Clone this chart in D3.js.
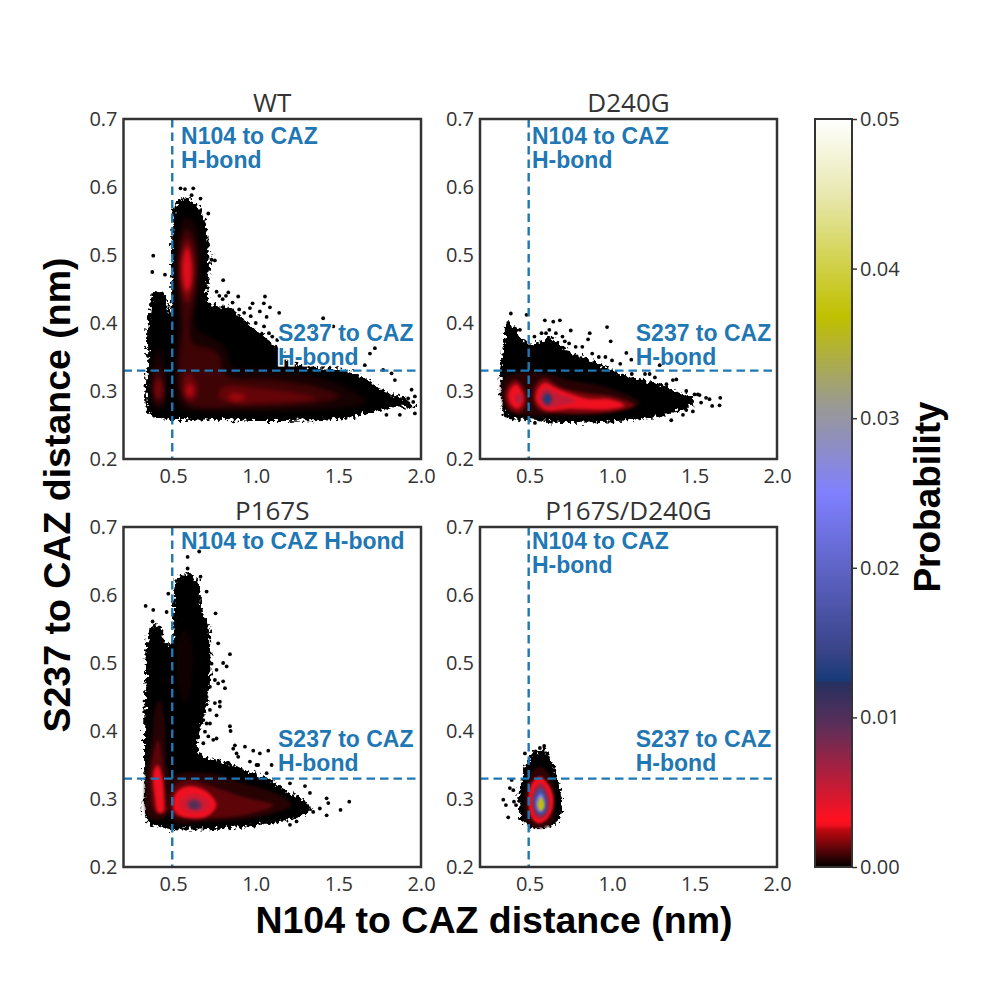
<!DOCTYPE html>
<html><head><meta charset="utf-8">
<script src="https://cdn.jsdelivr.net/npm/d3@7"></script>
<style>html,body{margin:0;padding:0;background:#fff}svg{display:block}</style>
</head><body><svg id="c" width="991" height="991"></svg>
<script>
const xTicks=[0.5,1.0,1.5,2.0], yTicks=[0.2,0.3,0.4,0.5,0.6,0.7], cbTicks=[0,0.01,0.02,0.03,0.04,0.05];
const hbondX=0.495, hbondY=0.33;
const cmapValues=[0,0.0025,0.0028,0.0032,0.0065,0.0095,0.0123,0.0125,0.0145,0.025,0.031,0.0368,0.045,0.05];
const cmapColors=["#000000","#c00810","#f01020","#ff1020","#a82040","#5a2f5a","#27305f","#183a78","#3a4488","#8080ff","#9a9a90","#c0c000","#e8e8b0","#ffffff"];

const wtOutline=[[.531,.581],[.602,.582],[.658,.569],[.693,.547],[.713,.512],[.723,.483],[.713,.434],[.783,.424],[.824,.425],[.925,.405],[1.025,.385],[1.126,.365],[1.247,.340],[1.529,.332],[1.670,.318],[1.791,.298],[1.892,.290],[1.963,.275],[1.852,.277],[1.731,.270],[1.529,.260],[1.126,.256],[.723,.258],[.380,.262],[.336,.279],[.344,.336],[.344,.390],[.360,.424],[.380,.446],[.441,.444],[.477,.414],[.491,.468],[.495,.532],[.501,.561]];
const wtStray=[[.545,.598],[.572,.597],[.622,.598],[.666,.583],[.612,.588],[.713,.561],[.733,.493],[.753,.492],[.803,.463],[.380,.499],[.374,.475],[.451,.471],[.763,.446],[.834,.445],[.894,.439],[.981,.429],[1.056,.439],[1.049,.429],[1.086,.423],[1.142,.415],[.965,.422],[1.025,.417],[1.066,.409],[1.408,.407],[1.469,.395],[1.721,.363],[1.691,.355],[1.660,.338],[1.771,.331],[1.822,.326],[1.842,.316],[1.943,.302],[1.963,.292],[1.953,.284],[1.922,.289],[1.963,.267],[1.872,.265],[1.791,.265],[1.771,.294],[1.348,.390],[.80,.435],[.82,.44],[.86,.43],[.90,.42],[.93,.415],[.97,.41],[1.0,.40],[1.05,.395],[1.08,.385],[1.10,.38],[1.13,.375],[.78,.44]];
const wtBands=[
[.0003,[[.572,.556],[.632,.547],[.662,.507],[.658,.453],[.638,.395],[.723,.380],[.814,.365],[.864,.336],[1.126,.331],[1.368,.321],[1.570,.302],[1.670,.284],[1.529,.275],[1.126,.270],[.723,.270],[.551,.275],[.515,.302],[.515,.355],[.531,.409],[.517,.483],[.531,.532]]],
[.0003,[[.410,.363],[.451,.341],[.461,.302],[.441,.275],[.390,.275],[.364,.302],[.376,.341]]],
[.0008,[[.582,.539],[.622,.527],[.646,.493],[.632,.439],[.602,.400],[.622,.370],[.723,.363],[.783,.351],[.814,.324],[1.126,.316],[1.368,.306],[1.509,.292],[1.328,.281],[.925,.277],[.602,.279],[.545,.297],[.537,.346],[.558,.395],[.537,.453],[.531,.498],[.551,.527]]],
[.0008,[[.416,.336],[.447,.311],[.441,.284],[.400,.281],[.376,.302],[.386,.326]]],
[.0015,[[.586,.525],[.622,.498],[.618,.449],[.586,.429],[.549,.449],[.545,.498]]],
[.0014,[[.592,.326],[.646,.311],[.642,.292],[.602,.284],[.562,.294],[.562,.316]]],
[.0013,[[.804,.306],[1.025,.304],[1.247,.297],[1.368,.289],[1.126,.283],[.864,.282],[.773,.292]]],
[.0015,[[.416,.319],[.437,.302],[.420,.289],[.394,.292],[.386,.306]]],
[.0027,[[.586,.512],[.614,.488],[.608,.456],[.582,.446],[.558,.463],[.558,.493]]],
[.0023,[[.602,.311],[.626,.302],[.612,.292],[.582,.294],[.578,.304]]],
[.002,[[.854,.297],[.945,.292],[.884,.284],[.834,.289]]]
];

const dgOutline=[[.357,.399],[.412,.395],[.442,.380],[.482,.370],[.563,.372],[.644,.378],[.724,.360],[.845,.348],[.986,.332],[1.087,.322],[1.228,.314],[1.390,.300],[1.500,.288],[1.500,.282],[1.430,.274],[1.269,.262],[.986,.255],[.704,.253],[.502,.257],[.361,.261],[.335,.277],[.325,.311],[.335,.350],[.351,.380]];
const dgStray=[[.387,.414],[.482,.412],[.371,.400],[.593,.404],[.644,.402],[.684,.404],[.750,.389],[.970,.394],[.865,.385],[.855,.376],[.992,.373],[1.087,.356],[1.117,.346],[1.289,.338],[1.228,.325],[1.369,.316],[1.390,.317],[1.591,.288],[1.656,.290],[1.652,.279],[1.607,.278],[1.490,.270],[1.430,.265],[1.359,.257],[.533,.253],[1.531,.294],[.442,.390],[.573,.385],[.714,.373],[.60,.385],[.62,.39],[.66,.385],[.70,.38],[.74,.37],[.78,.365],[.82,.365],[.88,.355],[.92,.35],[.96,.35],[1.0,.345],[1.05,.34],[1.12,.325],[1.2,.325],[1.26,.32],[1.33,.31],[1.45,.30],[1.5,.295],[.53,.38],[1.52,.295],[1.54,.283],[1.57,.29],[1.45,.272]];
const dgBands=[
[.0005,[[.341,.316],[.402,.326],[.593,.326],[.744,.316],[.986,.304],[1.168,.282],[1.027,.270],[.704,.265],[.402,.267],[.341,.282]]],
[.0015,[[.418,.317],[.472,.301],[.482,.282],[.442,.268],[.377,.274],[.351,.294],[.377,.311]]],
[.0015,[[.593,.319],[.684,.306],[.845,.297],[1.006,.292],[1.138,.279],[1.006,.269],[.704,.267],[.553,.273],[.519,.292],[.543,.311]]],
[.0028,[[.422,.310],[.458,.297],[.462,.283],[.428,.274],[.385,.281],[.371,.294],[.392,.306]]],
[.0028,[[.593,.312],[.664,.304],[.845,.289],[.986,.288],[1.077,.279],[.986,.273],[.744,.274],[.593,.272],[.539,.287],[.553,.304]]],
[.006,[[.432,.297],[.458,.289],[.438,.281],[.412,.288]]],
[.0055,[[.599,.305],[.664,.297],[.785,.286],[.684,.278],[.599,.276],[.559,.288],[.567,.299]]],
[.01,[[.607,.298],[.640,.288],[.607,.279],[.579,.288]]],
[.013,[[.607,.294],[.629,.288],[.607,.282],[.587,.288]]]
];

const psOutline=[[.531,.627],[.612,.629],[.662,.612],[.672,.578],[.715,.558],[.725,.514],[.720,.460],[.685,.421],[.655,.392],[.662,.367],[.804,.355],[.965,.340],[1.086,.328],[1.166,.314],[1.280,.300],[1.340,.284],[1.247,.272],[1.025,.262],[.662,.255],[.420,.259],[.340,.269],[.326,.333],[.326,.421],[.336,.485],[.336,.529],[.370,.553],[.420,.556],[.451,.529],[.491,.529],[.501,.588]];
const psStray=[[.588,.656],[.658,.664],[.588,.639],[.602,.629],[.551,.625],[.666,.627],[.703,.605],[.471,.602],[.334,.584],[.380,.578],[.461,.575],[.376,.561],[.757,.573],[.773,.529],[.844,.513],[.803,.500],[.824,.495],[.803,.473],[.814,.463],[.783,.436],[.844,.407],[.848,.400],[.763,.423],[.723,.411],[.743,.387],[.874,.379],[.935,.377],[.985,.371],[1.076,.371],[1.025,.367],[1.096,.350],[1.015,.350],[.884,.367],[1.207,.323],[1.298,.319],[1.328,.309],[1.429,.301],[1.439,.294],[1.566,.296],[1.513,.284],[1.429,.276],[1.388,.286],[1.348,.281],[1.247,.267],[1.207,.262],[.723,.431],[.703,.450],[.773,.470],[.753,.441],[.753,.475],[.763,.490],[.783,.443],[.703,.411],[.683,.416],[.713,.392],[.763,.389],[.683,.382],[.834,.352],[.864,.374],[.894,.362],[.965,.355],[1.005,.350],[1.066,.338],[.733,.499],[.723,.465],[.672,.421],[.693,.399]];
const psBands=[
[.0002,[[.572,.549],[.612,.529],[.602,.455],[.572,.441],[.531,.470],[.531,.529]]],
[.0005,[[.420,.446],[.451,.411],[.461,.352],[.481,.333],[.491,.284],[.420,.269],[.350,.274],[.330,.318],[.370,.382],[.390,.431]]],
[.0005,[[.501,.333],[.723,.338],[.925,.323],[1.126,.308],[1.217,.291],[1.025,.274],[.723,.267],[.501,.267],[.481,.299]]],
[.0012,[[.410,.387],[.437,.352],[.451,.308],[.461,.281],[.400,.278],[.370,.294],[.364,.343]]],
[.0012,[[.602,.328],[.743,.318],[.925,.303],[1.106,.291],[.925,.276],[.642,.272],[.501,.276],[.485,.303],[.511,.321]]],
[.0028,[[.406,.350],[.435,.333],[.447,.299],[.441,.281],[.410,.280],[.386,.308],[.380,.338]]],
[.0028,[[.602,.319],[.703,.311],[.763,.291],[.703,.274],[.582,.272],[.511,.281],[.501,.299],[.531,.313]]],
[.005,[[.612,.308],[.703,.300],[.723,.289],[.652,.279],[.562,.284],[.541,.296]]],
[.0085,[[.622,.300],[.672,.294],[.662,.285],[.602,.286],[.586,.294]]],
[.0105,[[.622,.295],[.652,.290],[.622,.286],[.602,.290]]]
];

const pdOutline=[[.492,.357],[.523,.367],[.593,.372],[.634,.355],[.672,.328],[.700,.294],[.680,.269],[.603,.259],[.523,.257],[.452,.269],[.432,.299],[.452,.328],[.472,.348]];
const pdStray=[[.341,.299],[.357,.291],[.371,.273],[.381,.316],[.402,.313],[.406,.296],[.418,.291],[.392,.328],[.472,.367],[.537,.370],[.563,.375],[.589,.378],[.478,.344],[.472,.333]];
const pdBands=[
[.0006,[[.563,.348],[.634,.330],[.654,.294],[.634,.264],[.563,.257],[.492,.264],[.472,.299],[.502,.333]]],
[.0028,[[.563,.333],[.634,.313],[.644,.289],[.603,.269],[.553,.264],[.513,.272],[.492,.299],[.513,.323]]],
[.007,[[.567,.323],[.613,.308],[.619,.286],[.583,.272],[.539,.274],[.513,.294],[.527,.313]]],
[.016,[[.567,.316],[.603,.301],[.599,.281],[.563,.276],[.533,.286],[.533,.306]]],
[.024,[[.569,.308],[.593,.296],[.583,.283],[.557,.281],[.539,.291],[.547,.302]]],
[.037,[[.569,.303],[.590,.291],[.570,.282],[.550,.290]]]
];

const panels=[
{title:"WT",left:123.5,right:421,top:119,bottom:459,outline:wtOutline,stray:wtStray,bands:wtBands,
 notes:[["N104 to CAZ",.548,.663],["H-bond",.548,.628],["S237 to CAZ",1.135,.3735],["H-bond",1.135,.338]],halo:true,blur:2.2},
{title:"D240G",left:480,right:777,top:119,bottom:459,outline:dgOutline,stray:dgStray,bands:dgBands,
 notes:[["N104 to CAZ",.515,.663],["H-bond",.515,.628],["S237 to CAZ",1.144,.3735],["H-bond",1.144,.338]],blur:1.8},
{title:"P167S",left:123.5,right:421,top:527,bottom:867,outline:psOutline,stray:psStray,bands:psBands,
 notes:[["N104 to CAZ H-bond",.548,.667],["S237 to CAZ",1.135,.376],["H-bond",1.135,.341]],blur:1.8},
{title:"P167S/D240G",left:480,right:777,top:527,bottom:867,outline:pdOutline,stray:pdStray,bands:pdBands,
 notes:[["N104 to CAZ",.515,.667],["H-bond",.515,.632],["S237 to CAZ",1.144,.376],["H-bond",1.144,.341]],blur:1.0}
];

const color=d3.scaleLinear().domain(cmapValues).range(cmapColors).clamp(true);
const svg=d3.select("#c");
const tickFont='"Open Sans",sans-serif', boldFont='"Liberation Sans",Arial,sans-serif', blue="#1f77b4", dark="#333333";
const defs=svg.append("defs");
const rough=defs.append("filter").attr("id","rough").attr("filterUnits","userSpaceOnUse")
  .attr("color-interpolation-filters","sRGB")
  .attr("x",0).attr("y",0).attr("width",991).attr("height",991);
rough.append("feTurbulence").attr("type","fractalNoise").attr("baseFrequency",0.28).attr("numOctaves",2).attr("seed",4).attr("result","n");
rough.append("feDisplacementMap").attr("in","SourceGraphic").attr("in2","n").attr("scale",11).attr("xChannelSelector","R").attr("yChannelSelector","G");

panels.forEach((p,i)=>{
  const x=d3.scaleLinear().domain([0.2,2.0]).range([p.left,p.right]);
  const y=d3.scaleLinear().domain([0.2,0.7]).range([p.bottom,p.top]);
  const line=d3.line().x(d=>x(d[0])).y(d=>y(d[1])).curve(d3.curveCatmullRomClosed.alpha(0.5));
  const g=svg.append("g");
  defs.append("clipPath").attr("id","clip"+i).append("rect").attr("x",p.left).attr("y",p.top).attr("width",p.right-p.left).attr("height",p.bottom-p.top);
  const plot=g.append("g").attr("clip-path",`url(#clip${i})`);
  plot.append("path").attr("d",line(p.outline)).attr("fill","#000").attr("filter","url(#rough)");
  plot.append("g").selectAll("circle").data(p.stray).join("circle")
    .attr("cx",d=>x(d[0])).attr("cy",d=>y(d[1])).attr("r",1.9).attr("fill","#000");
  const fid="blur"+i;
  defs.append("filter").attr("id",fid).attr("x","-20%").attr("y","-20%").attr("width","140%").attr("height","140%")
    .attr("color-interpolation-filters","sRGB")
    .append("feGaussianBlur").attr("stdDeviation",p.blur);
  plot.append("g").attr("filter",`url(#${fid})`).selectAll("path").data(p.bands).join("path")
    .attr("d",d=>line(d[1])).attr("fill",d=>color(d[0]));
  const dash="8.5 5";
  plot.append("line").attr("x1",x(0.2)).attr("x2",x(2)).attr("y1",y(hbondY)).attr("y2",y(hbondY)).attr("stroke",blue).attr("stroke-width",2.4).attr("stroke-dasharray",dash);
  plot.append("line").attr("x1",x(hbondX)).attr("x2",x(hbondX)).attr("y1",y(0.7)).attr("y2",y(0.2)).attr("stroke",blue).attr("stroke-width",2.4).attr("stroke-dasharray",dash);
  g.append("g").selectAll("text").data(p.notes).join("text")
    .attr("x",d=>x(d[1])).attr("y",d=>y(d[2])).text(d=>d[0])
    .attr("font-family",boldFont).attr("font-weight",700).attr("font-size",23).attr("fill",blue)
    .attr("stroke",(d)=>p.halo&&d[1]>1?"#fff":"none").attr("stroke-width",3).attr("paint-order","stroke");
  const ax=g.append("g").attr("transform",`translate(0,${p.bottom})`)
    .call(d3.axisBottom(x).tickValues(xTicks).tickSize(0).tickPadding(10).tickFormat(d3.format(".1f")));
  const ay=g.append("g").attr("transform",`translate(${p.left},0)`)
    .call(d3.axisLeft(y).tickValues(yTicks).tickSize(0).tickPadding(6).tickFormat(d3.format(".1f")));
  [ax,ay].forEach(a=>{a.select(".domain").remove();a.selectAll("text").attr("font-family",tickFont).attr("font-size",20).attr("fill",dark);});
  g.append("rect").attr("x",p.left).attr("y",p.top).attr("width",p.right-p.left).attr("height",p.bottom-p.top)
    .attr("fill","none").attr("stroke",dark).attr("stroke-width",2.5);
  g.append("text").attr("x",(p.left+p.right)/2).attr("y",p.top-7).attr("text-anchor","middle").text(p.title)
    .attr("font-family",tickFont).attr("font-size",26).attr("fill",dark);
});

/* colour bar */
const cbX=815,cbW=37,cbTop=119,cbBottom=867;
const cb=d3.scaleLinear().domain([0,0.05]).range([cbBottom,cbTop]);
const grad=defs.append("linearGradient").attr("id","cbgrad").attr("x1",0).attr("x2",0).attr("y1",1).attr("y2",0);
grad.selectAll("stop").data(cmapValues).join("stop").attr("offset",d=>d/0.05).attr("stop-color",d=>color(d));
svg.append("rect").attr("x",cbX).attr("y",cbTop).attr("width",cbW).attr("height",cbBottom-cbTop).attr("fill","url(#cbgrad)").attr("stroke",dark).attr("stroke-width",2);
const cax=svg.append("g").attr("transform",`translate(${cbX+cbW},0)`)
  .call(d3.axisRight(cb).tickValues(cbTicks).tickSize(5).tickPadding(3).tickFormat(d3.format(".2f")));
cax.select(".domain").remove();
cax.selectAll("line").attr("stroke",dark).attr("stroke-width",1.5);
cax.selectAll("text").attr("font-family",tickFont).attr("font-size",20).attr("fill",dark);

/* axis titles */
const boldText=(tx,ty,rot,size,s)=>svg.append("text").attr("transform",`translate(${tx},${ty}) rotate(${rot})`).attr("text-anchor","middle")
  .attr("font-family",boldFont).attr("font-weight",700).attr("font-size",size).attr("fill","#000").text(s);
boldText(494,933,0,37.5,"N104 to CAZ distance (nm)");
boldText(70,495,-90,37.5,"S237 to CAZ distance (nm)");
boldText(940,497,-90,37,"Probability");
</script></body></html>
